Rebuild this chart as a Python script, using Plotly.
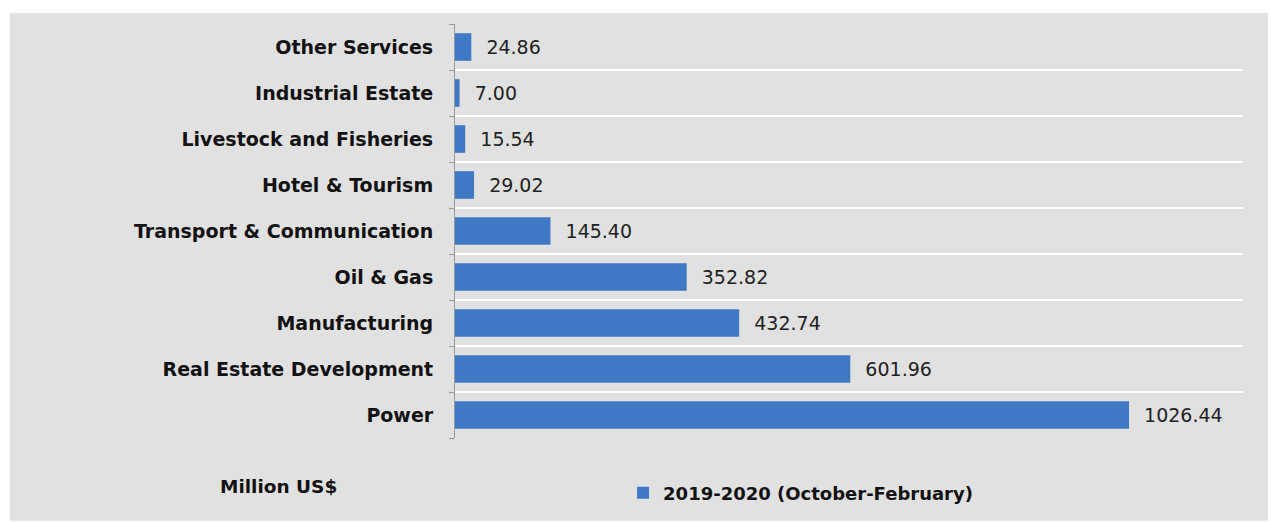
import plotly.graph_objects as go

sectors = ["Other Services", "Industrial Estate", "Livestock and Fisheries", "Hotel & Tourism",
           "Transport & Communication", "Oil & Gas", "Manufacturing",
           "Real Estate Development", "Power"]
investment = [24.86, 7.00, 15.54, 29.02, 145.40, 352.82, 432.74, 601.96, 1026.44]
series_name = "2019-2020 (October-February)"
unit_label = "Million US$"

font_family = "DejaVu Sans, sans-serif"
bar_color = "#3f79c6"
panel_color = "#e1e1e1"

fig = go.Figure()
fig.add_trace(go.Bar(
    x=investment,
    y=sectors,
    orientation="h",
    name="<b>" + series_name + "</b>",
    marker=dict(color=bar_color, line=dict(width=0)),
    width=0.6,
    texttemplate="\u00a0\u00a0%{x:.2f}",
    textposition="outside",
    textfont=dict(family=font_family, size=19, color="#222222"),
    cliponaxis=False,
))

# grey panel behind the whole chart
fig.add_shape(type="rect", xref="paper", yref="paper",
              x0=-0.5647, x1=1.0317, y0=-0.2, y1=1.0265,
              fillcolor=panel_color, line=dict(width=0), layer="below")

fig.add_annotation(text="<b>" + unit_label + "</b>", xref="paper", yref="paper",
                   x=-0.2246, y=-0.118, xanchor="center", yanchor="middle",
                   showarrow=False,
                   font=dict(family=font_family, size=18.5, color="#111111"))

fig.update_layout(
    width=1271, height=522,
    paper_bgcolor="white",
    plot_bgcolor=panel_color,
    margin=dict(l=455, r=28, t=24, b=83),
    bargap=0.4,
    showlegend=True,
    legend=dict(orientation="h", x=0.2133, y=-0.13, xanchor="left", yanchor="middle",
                bgcolor="rgba(0,0,0,0)", itemwidth=30,
                font=dict(family=font_family, size=18, color="#111111")),
    xaxis=dict(range=[0, 1200], visible=False, showgrid=False, zeroline=False),
    yaxis=dict(
        type="category",
        categoryorder="array", categoryarray=sectors,
        range=[len(sectors) - 0.5, -0.5],
        tickmode="array", tickvals=sectors,
        ticktext=["<b>" + s + "</b>" for s in sectors],
        tickson="boundaries",
        ticks="outside", ticklen=5, tickcolor="#999999",
        showline=True, linecolor="#999999", linewidth=1,
        showgrid=True, gridcolor="white", gridwidth=2,
        tickfont=dict(family=font_family, size=19, color="#111111"),
        ticklabelstandoff=17,
    ),
)

fig.write_html("out.html", config={"displayModeBar": False},
               post_script="document.body.style.margin='0';")
